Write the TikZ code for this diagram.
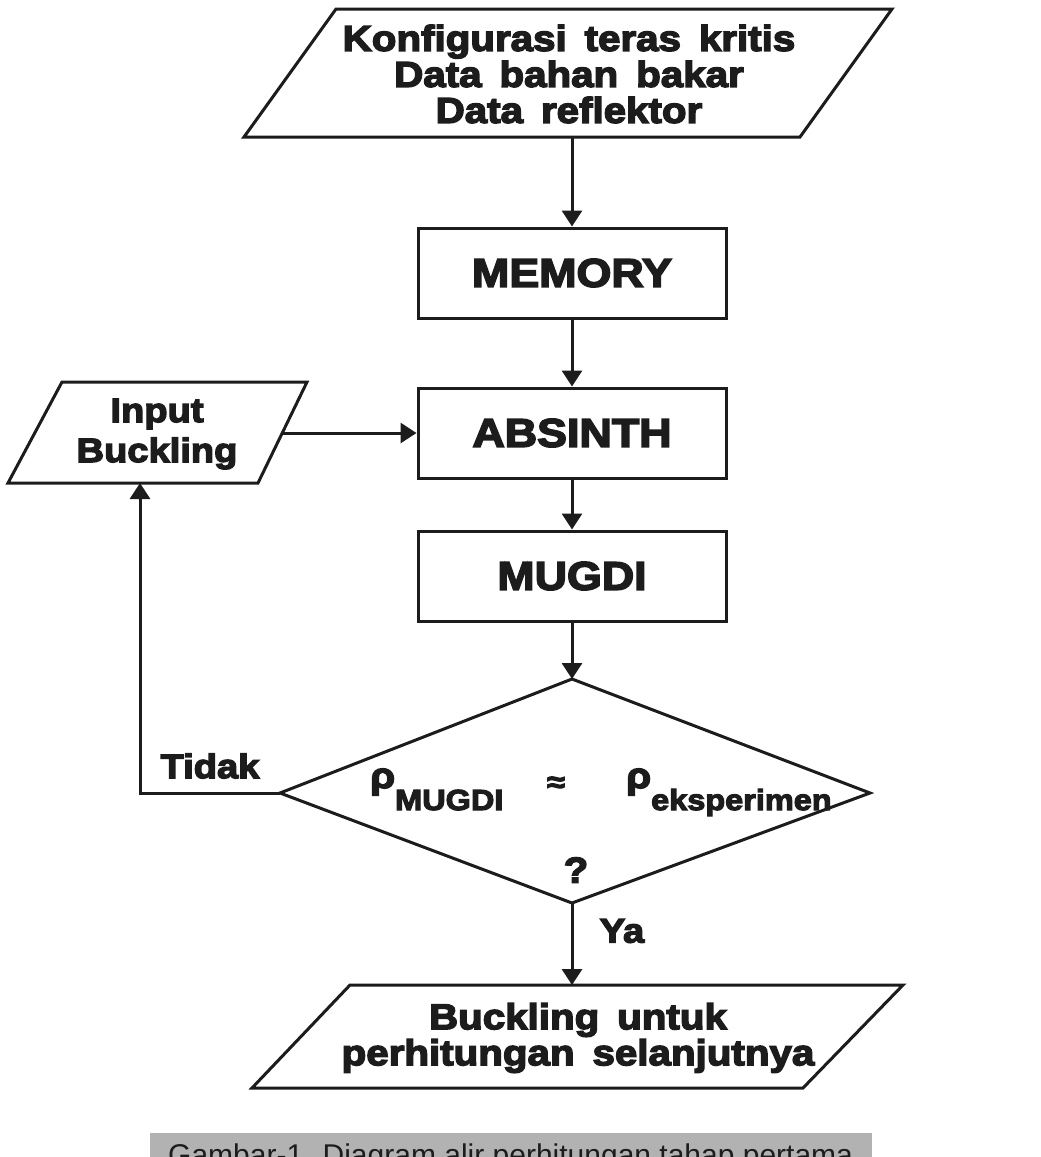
\documentclass[tikz,border=0pt]{standalone}
\usepackage{fontspec}
\setmainfont{Liberation Sans}
\newfontfamily\heavy{Liberation Sans Bold}[FakeBold=4,FakeStretch=1.12,WordSpace=1.6]
\usetikzlibrary{arrows.meta}
\definecolor{ink}{HTML}{1C1C1C}
\definecolor{band}{HTML}{B2B2B2}
\tikzset{
  ln/.style={draw=ink, line width=3pt, line join=miter},
  arr/.style={ln, -{Triangle[length=16pt,width=20pt]}},
  box/.style={ln, rectangle, minimum width=308pt, minimum height=90pt, inner sep=0pt,
    font=\heavy\fontsize{40}{44}\selectfont, text=ink},
  txt/.style={inner sep=0pt, text=ink, align=center},
  big/.style={txt, font=\heavy\fontsize{36}{36}\selectfont},
  mid/.style={txt, font=\heavy\fontsize{34}{40}\selectfont},
  sub/.style={txt, font=\heavy\fontsize{29}{30}\selectfont},
  captext/.style={inner sep=0pt, text=ink, font=\fontsize{30}{32}\selectfont}
}
\begin{document}
\begin{tikzpicture}[x=1pt,y=-1pt]
\useasboundingbox (0,0) rectangle (1041,1157);
\fill[white] (0,0) rectangle (1041,1157);
% top input parallelogram
\draw[ln] (336,9) -- (892,9) -- (800,137) -- (244,137) -- cycle;
\node[big] (cfg) at (569,74) {Konfigurasi teras kritis\\Data bahan bakar\\Data reflektor};
\coordinate (cfgb) at (572,137);
% process boxes
\node[box] (mem) at (572,273) {MEMORY};
\node[box] (abs) at (572,433) {ABSINTH};
\node[box] (mug) at (572,576) {MUGDI};
% input buckling
\draw[ln] (62,382) -- (307,382) -- (258,483) -- (8,483) -- cycle;
\node[mid] (inp) at (157,434) {Input\\Buckling};
\coordinate (inr) at (282,433);
\coordinate (inb) at (140,483);
% decision diamond
\coordinate (dt) at (572,679);
\coordinate (dl) at (280,793);
\coordinate (dr) at (870,793);
\coordinate (db) at (572,903);
\draw[ln] (dt) -- (dr) -- (db) -- (dl) -- cycle;
\node[big, anchor=base west] (r1) at (370,788) {ρ\raisebox{-22pt}{\fontsize{29}{30}\selectfont MUGDI}};
\node[sub, anchor=base] (ap) at (556,792) {≈};
\node[big, anchor=base west] (r2) at (626,788) {ρ\raisebox{-22pt}{\fontsize{29}{30}\selectfont eksperimen}};
\node[big] (q) at (576,870) {?};
% output parallelogram
\draw[ln] (350,985) -- (903,985) -- (803,1088) -- (252,1088) -- cycle;
\node[big] (out) at (578,1038) {Buckling untuk\\perhitungan selanjutnya};
\coordinate (outt) at (572,985);
% connectors
\draw[arr] (cfgb) -- (mem.north);
\draw[arr] (mem.south) -- (abs.north);
\draw[arr] (abs.south) -- (mug.north);
\draw[arr] (mug.south) -- (dt);
\draw[arr] (inr) -- (abs.west);
\coordinate (lc) at (140,793);
\draw[arr] (dl) -- (lc) -- (inb);
\draw[arr] (db) -- (outt);
\node[mid] (tdk) at (210,766) {Tidak};
\node[mid] (ya) at (622,931) {Ya};
% caption band (cut off at the bottom, as in the scan)
\begin{scope}
\clip (0,0) rectangle (1041,1157);
\fill[band] (150,1133) rectangle (872,1160);
\node[captext, anchor=base west] (capt) at (168,1165) {Gambar-1. Diagram alir perhitungan tahap pertama};
\end{scope}
\end{tikzpicture}
\end{document}
